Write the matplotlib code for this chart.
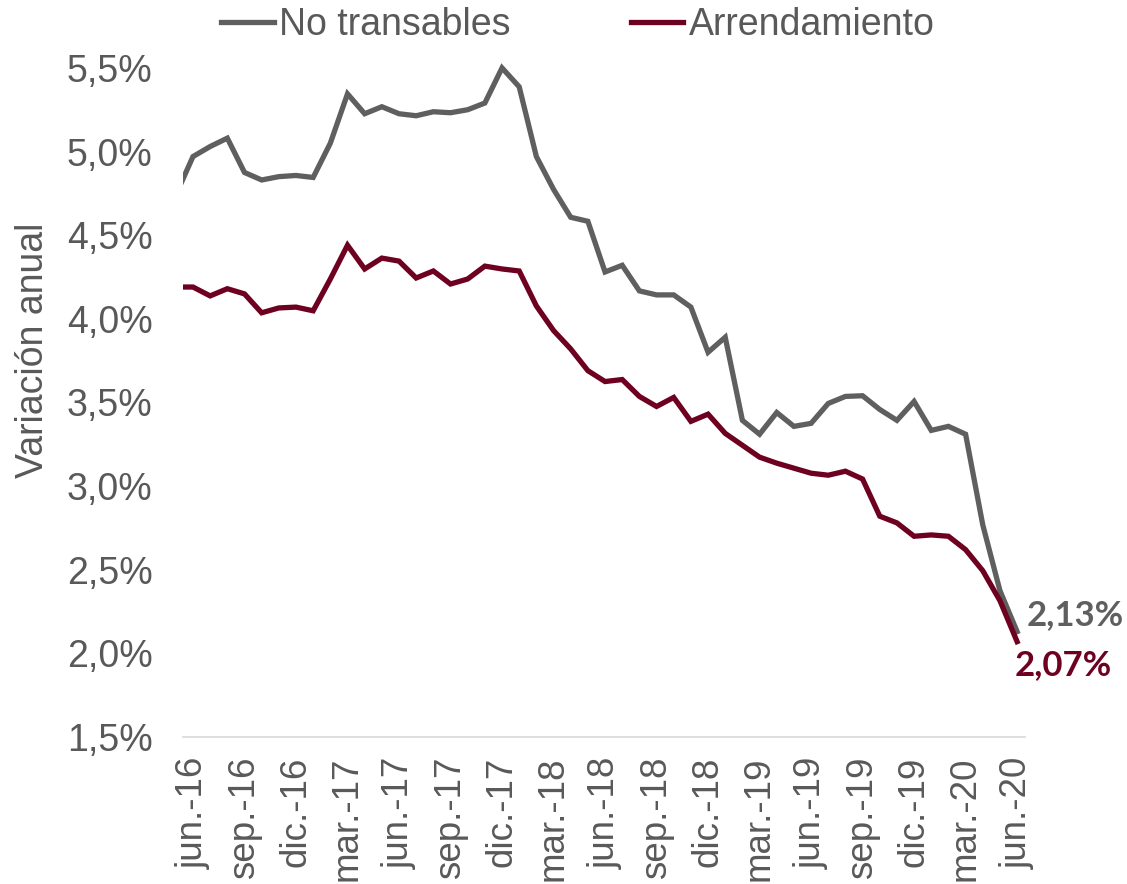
import matplotlib
matplotlib.use("Agg")
import matplotlib.pyplot as plt

# months from may-16 (index 0) to jun-20 (index 49)
no_transables = [4.74, 4.97, 5.03, 5.08, 4.875, 4.83, 4.85, 4.857, 4.845, 5.05,
                 5.345, 5.226, 5.268, 5.226, 5.214, 5.238, 5.232, 5.25, 5.29, 5.50,
                 5.387, 4.97, 4.774, 4.607, 4.583, 4.28, 4.32, 4.167, 4.143, 4.143,
                 4.07, 3.80, 3.89, 3.393, 3.31, 3.44, 3.357, 3.375, 3.494, 3.536,
                 3.54, 3.458, 3.393, 3.506, 3.333, 3.357, 3.31, 2.768, 2.375, 2.13]
arrendamiento = [4.19, 4.19, 4.137, 4.18, 4.149, 4.036, 4.065, 4.07, 4.048, 4.238,
                 4.44, 4.298, 4.363, 4.345, 4.244, 4.286, 4.208, 4.238, 4.315, 4.298,
                 4.286, 4.077, 3.93, 3.82, 3.69, 3.625, 3.637, 3.536, 3.476, 3.53,
                 3.387, 3.43, 3.315, 3.244, 3.173, 3.137, 3.107, 3.077, 3.065, 3.089,
                 3.042, 2.82, 2.78, 2.70, 2.708, 2.70, 2.62, 2.494, 2.315, 2.07]
x_labels = ["jun.-16", "sep.-16", "dic.-16", "mar.-17", "jun.-17", "sep.-17",
            "dic.-17", "mar.-18", "jun.-18", "sep.-18", "dic.-18", "mar.-19",
            "jun.-19", "sep.-19", "dic.-19", "mar.-20", "jun.-20"]
y_ticks = [1.5, 2.0, 2.5, 3.0, 3.5, 4.0, 4.5, 5.0, 5.5]
y_labels = ["1,5%", "2,0%", "2,5%", "3,0%", "3,5%", "4,0%", "4,5%", "5,0%", "5,5%"]
last_labels = ["2,13%", "2,07%"]

GRAY = "#5f5f5f"
RED = "#6e0020"
TXT = "#595959"

plt.rcParams['font.family'] = ['Liberation Sans', 'DejaVu Sans']

fig = plt.figure(figsize=(11.27, 8.84), dpi=100)
ax = fig.add_axes([0.1624, 0.1663, 0.7471, 0.7758])

x = list(range(len(no_transables)))
ax.plot(x, no_transables, color=GRAY, lw=3.8, label="No transables", solid_joinstyle='miter')
ax.plot(x, arrendamiento, color=RED, lw=3.8, label="Arrendamiento", solid_joinstyle='miter')

ax.set_xlim(0.42, 49.46)
ax.set_ylim(1.5, 5.6)

ax.set_xticks(list(range(1, 50, 3)))
ax.set_xticklabels(x_labels, rotation=90, fontsize=26.5, color=TXT)
ax.set_yticks(y_ticks)
ax.set_yticklabels(y_labels, fontsize=27, color=TXT)
ax.tick_params(axis='both', length=0)
ax.tick_params(axis='y', pad=22)
ax.tick_params(axis='x', pad=14)

for s in ['top', 'right', 'left']:
    ax.spines[s].set_visible(False)
ax.spines['bottom'].set_color("#d9d9d9")
ax.spines['bottom'].set_linewidth(1.2)

fig.text(0.029, 0.604, "Variación anual", rotation=90, ha='center', va='center',
         fontsize=27, color=TXT)

# end labels
ax.text(49.55, no_transables[-1] + 0.10, last_labels[0], color=GRAY, fontsize=25,
        fontweight='bold', family='Lato', ha='left', va='center', clip_on=False)
ax.text(48.85, arrendamiento[-1] - 0.14, last_labels[1], color=RED, fontsize=25,
        fontweight='bold', family='Lato', ha='left', va='center', clip_on=False)

fig.legend(loc='center', bbox_to_anchor=(0.513, 0.972), ncol=2, frameon=False,
           fontsize=27, labelcolor=TXT, handlelength=1.4, handletextpad=0.15,
           columnspacing=3.2, borderpad=0, borderaxespad=0)

fig.savefig("out.png", dpi=100)
